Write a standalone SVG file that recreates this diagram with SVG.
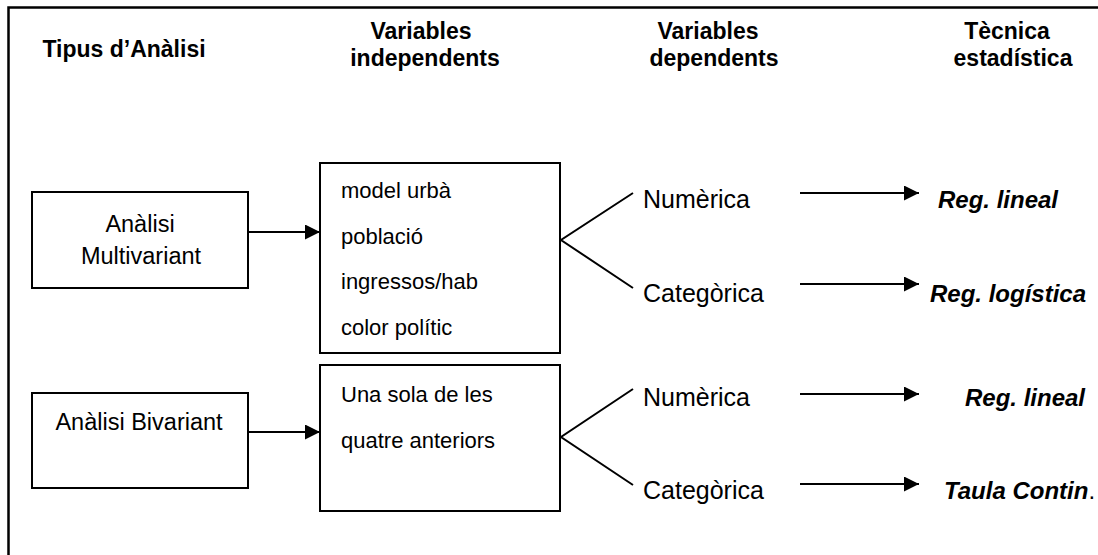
<svg xmlns="http://www.w3.org/2000/svg" width="1098" height="555" viewBox="0 0 1098 555">
<style>
text{font-family:"Liberation Sans",Arial,sans-serif;fill:#000}
.h{font-size:23px;font-weight:bold;text-anchor:middle}
.a{font-size:23.5px;text-anchor:middle}
.t{font-size:22px}
.d{font-size:25px}
.r{font-size:24px;font-weight:bold;font-style:italic}
.box{fill:#fff;stroke:#000;stroke-width:2}
.ln{stroke:#000;stroke-width:2;fill:none}
</style>
<defs>
<marker id="ah" viewBox="0 0 10 10" refX="10" refY="5" markerWidth="7.5" markerHeight="7.5" markerUnits="strokeWidth" orient="auto">
<path d="M0,0 L10,5 L0,10 z" fill="#000"/>
</marker>
</defs>
<rect x="0" y="0" width="1098" height="555" fill="#fff"/>
<path d="M8.5,560 L8.5,7.5 L1100,7.5" fill="none" stroke="#000" stroke-width="2.5"/>
<g id="headers">
<text class="h" x="124" y="57">Tipus d’Anàlisi</text>
<text class="h" x="421" y="39">Variables</text>
<text class="h" x="425" y="66">independents</text>
<text class="h" x="708" y="39">Variables</text>
<text class="h" x="714" y="66">dependents</text>
<text class="h" x="1007" y="39">Tècnica</text>
<text class="h" x="1013" y="66">estadística</text>
</g>
<g id="multivariant">
<rect class="box" x="32" y="192" width="216" height="96"/>
<text class="a" x="140" y="232">Anàlisi</text>
<text class="a" x="141" y="264">Multivariant</text>
</g>
<g id="vars-multi">
<rect class="box" x="320" y="163" width="240" height="190"/>
<text class="t" x="341" y="198">model urbà</text>
<text class="t" x="341" y="244">població</text>
<text class="t" x="341" y="289">ingressos/hab</text>
<text class="t" x="341" y="335">color polític</text>
</g>
<g id="dep-multi">
<text class="d" x="643" y="208">Numèrica</text>
<text class="d" x="643" y="302">Categòrica</text>
</g>
<g id="tec-multi">
<text class="r" x="938" y="208">Reg. lineal</text>
<text class="r" x="930" y="302">Reg. logística</text>
</g>
<g id="bivariant">
<rect class="box" x="32" y="393" width="216" height="95"/>
<text class="a" x="139" y="430">Anàlisi Bivariant</text>
</g>
<g id="vars-bi">
<rect class="box" x="320" y="365" width="240" height="146"/>
<text class="t" x="341" y="402">Una sola de les</text>
<text class="t" x="341" y="448">quatre anteriors</text>
</g>
<g id="dep-bi">
<text class="d" x="643" y="406">Numèrica</text>
<text class="d" x="643" y="499">Categòrica</text>
</g>
<g id="tec-bi">
<text class="r" x="965" y="406">Reg. lineal</text>
<text class="r" x="944" y="499">Taula Contin<tspan style="font-weight:normal;font-style:normal">.</tspan></text>
</g>
<g id="connectors">
<line class="ln" x1="248" y1="232" x2="320" y2="232" marker-end="url(#ah)"/>
<line class="ln" x1="248" y1="432" x2="320" y2="432" marker-end="url(#ah)"/>
<polyline class="ln" points="633,193 561,240 633,288"/>
<polyline class="ln" points="633,389 561,437 633,485"/>
<line class="ln" x1="800" y1="193" x2="919" y2="193" marker-end="url(#ah)"/>
<line class="ln" x1="800" y1="284" x2="919" y2="284" marker-end="url(#ah)"/>
<line class="ln" x1="800" y1="394" x2="919" y2="394" marker-end="url(#ah)"/>
<line class="ln" x1="800" y1="484" x2="919" y2="484" marker-end="url(#ah)"/>
</g>
</svg>
